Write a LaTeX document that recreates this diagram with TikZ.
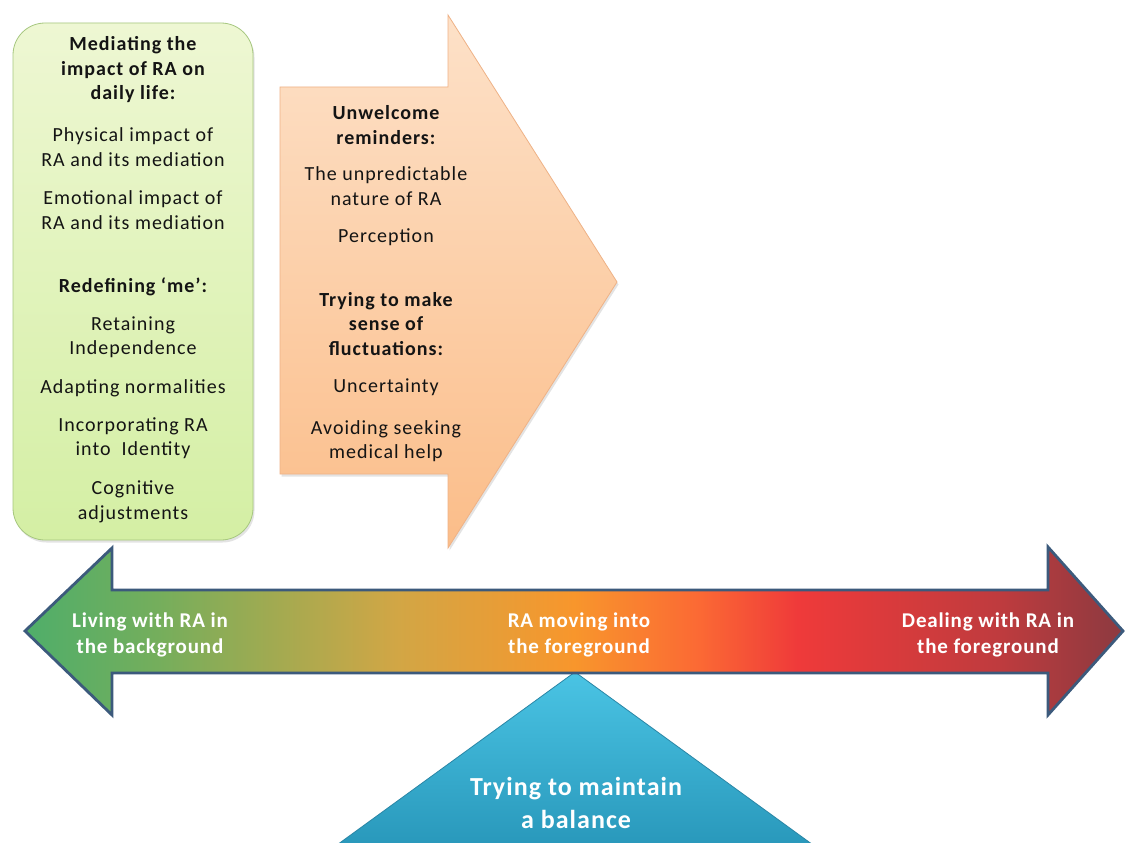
\documentclass[tikz,border=0pt]{standalone}
\usepackage{fontspec}
\setmainfont{Carlito}[LetterSpace=5]
\newfontfamily\bandfont{Carlito}[LetterSpace=4]
\usetikzlibrary{shadows}

% palette
\definecolor{greenTop}{HTML}{EEF7D3}
\definecolor{greenBot}{HTML}{D4EFA4}
\definecolor{greenEdge}{HTML}{A6C77F}
\definecolor{orangeTop}{HTML}{FDE1C8}
\definecolor{orangeBot}{HTML}{FBBD89}
\definecolor{orangeEdge}{HTML}{EFB286}
\definecolor{balTop}{HTML}{4AC4E4}
\definecolor{balBot}{HTML}{2897BA}
\definecolor{balEdge}{HTML}{2A86A6}
\definecolor{bandEdge}{HTML}{3C5A7C}
\definecolor{tlA}{HTML}{4FAE6A}
\definecolor{tlB}{HTML}{74AE5C}
\definecolor{tlC}{HTML}{D2A645}
\definecolor{tlD}{HTML}{F8962C}
\definecolor{tlE}{HTML}{FB6934}
\definecolor{tlF}{HTML}{EF3A3A}
\definecolor{tlG}{HTML}{BF3B3E}
\definecolor{tlH}{HTML}{8C3A40}

% left-to-right colour ramp of the timeline band (edges at 25bp and 75bp)
\pgfdeclarehorizontalshading{timeline}{100bp}{color(0bp)=(tlA); color(25bp)=(tlA);
  color(31bp)=(tlB); color(42bp)=(tlC); color(50bp)=(tlD); color(55.7bp)=(tlE);
  color(60.2bp)=(tlF); color(69.3bp)=(tlG); color(75bp)=(tlH); color(100bp)=(tlH)}

\begin{document}
\begin{tikzpicture}[x=1pt,y=-1pt,
  body/.style={font=\fontsize{20}{24.5}\selectfont, align=center, text=black!92},
  head/.style={body, font=\fontsize{20}{24.5}\selectfont\bfseries},
  band/.style={font=\bandfont\fontsize{21}{26}\selectfont\bfseries, align=center, text=white},
  soft/.style={drop shadow={opacity=0.22, shadow xshift=1.5pt, shadow yshift=-2.5pt}},
]
\fill[white] (0,0) rectangle (1125,843);
\useasboundingbox (0,0) rectangle (1125,843);
\clip (0,0) rectangle (1125,843);

% balance triangle (runs off the bottom edge)
\draw[line width=0.8, draw=balEdge, top color=balTop, bottom color=balBot]
  (575,672) -- (330,850) -- (820,850) -- cycle;

% timeline double arrow
\draw[line width=2.8, draw=bandEdge, line join=miter, shading=timeline]
  (25,631) -- (112,548) -- (112,590) -- (1048,590) -- (1048,547)
  -- (1123,631) -- (1048,715) -- (1048,673) -- (112,673) -- (112,715) -- cycle;

% green rounded box
\draw[soft, line width=0.8, draw=greenEdge, rounded corners=32,
      top color=greenTop, bottom color=greenBot] (13,23) rectangle (253,540);

% orange block arrow
\draw[soft, line width=0.8, draw=orangeEdge, line join=miter,
      top color=orangeTop, bottom color=orangeBot]
  (280,87) -- (448,87) -- (448,15) -- (617,282) -- (448,548) -- (448,474) -- (280,474) -- cycle;

% green box text
\node[head] (med)  at (133,70)  {Mediating the\\impact of RA on\\daily life:};
\node[body] (phys) at (133,147) {Physical impact of\\RA and its mediation};
\node[body] (emo)  at (133,210) {Emotional impact of\\RA and its mediation};
\node[head] (redef) at (133,287) {Redefining ‘me’:};
\node[body] (ret)  at (133,337) {Retaining\\Independence};
\node[body] (adap) at (133,388) {Adapting normalities};
\node[body] (inc)  at (133,438) {Incorporating RA\\into~ Identity};
\node[body] (cog)  at (133,502) {Cognitive\\adjustments};

% orange arrow text
\node[head] (unw)  at (386,125) {Unwelcome\\reminders:};
\node[body] (unp)  at (386,186) {The unpredictable\\nature of RA};
\node[body] (perc) at (386,237) {Perception};
\node[head] (sense) at (386,324) {Trying to make\\sense of\\fluctuations:};
\node[body] (unc)  at (386,387) {Uncertainty};
\node[body] (avoid) at (386,441) {Avoiding seeking\\medical help};

% timeline labels
\node[band] (bg) at (150,635) {Living with RA in\\the background};
\node[band] (mv) at (579,635) {RA moving into\\the foreground};
\node[band] (fg) at (988,635) {Dealing with RA in\\the foreground};

% balance label
\node[font=\bandfont\fontsize{26}{33}\selectfont\bfseries, align=center, text=white]
  (bal) at (576,803) {Trying to maintain\\a balance};
\end{tikzpicture}
\end{document}
